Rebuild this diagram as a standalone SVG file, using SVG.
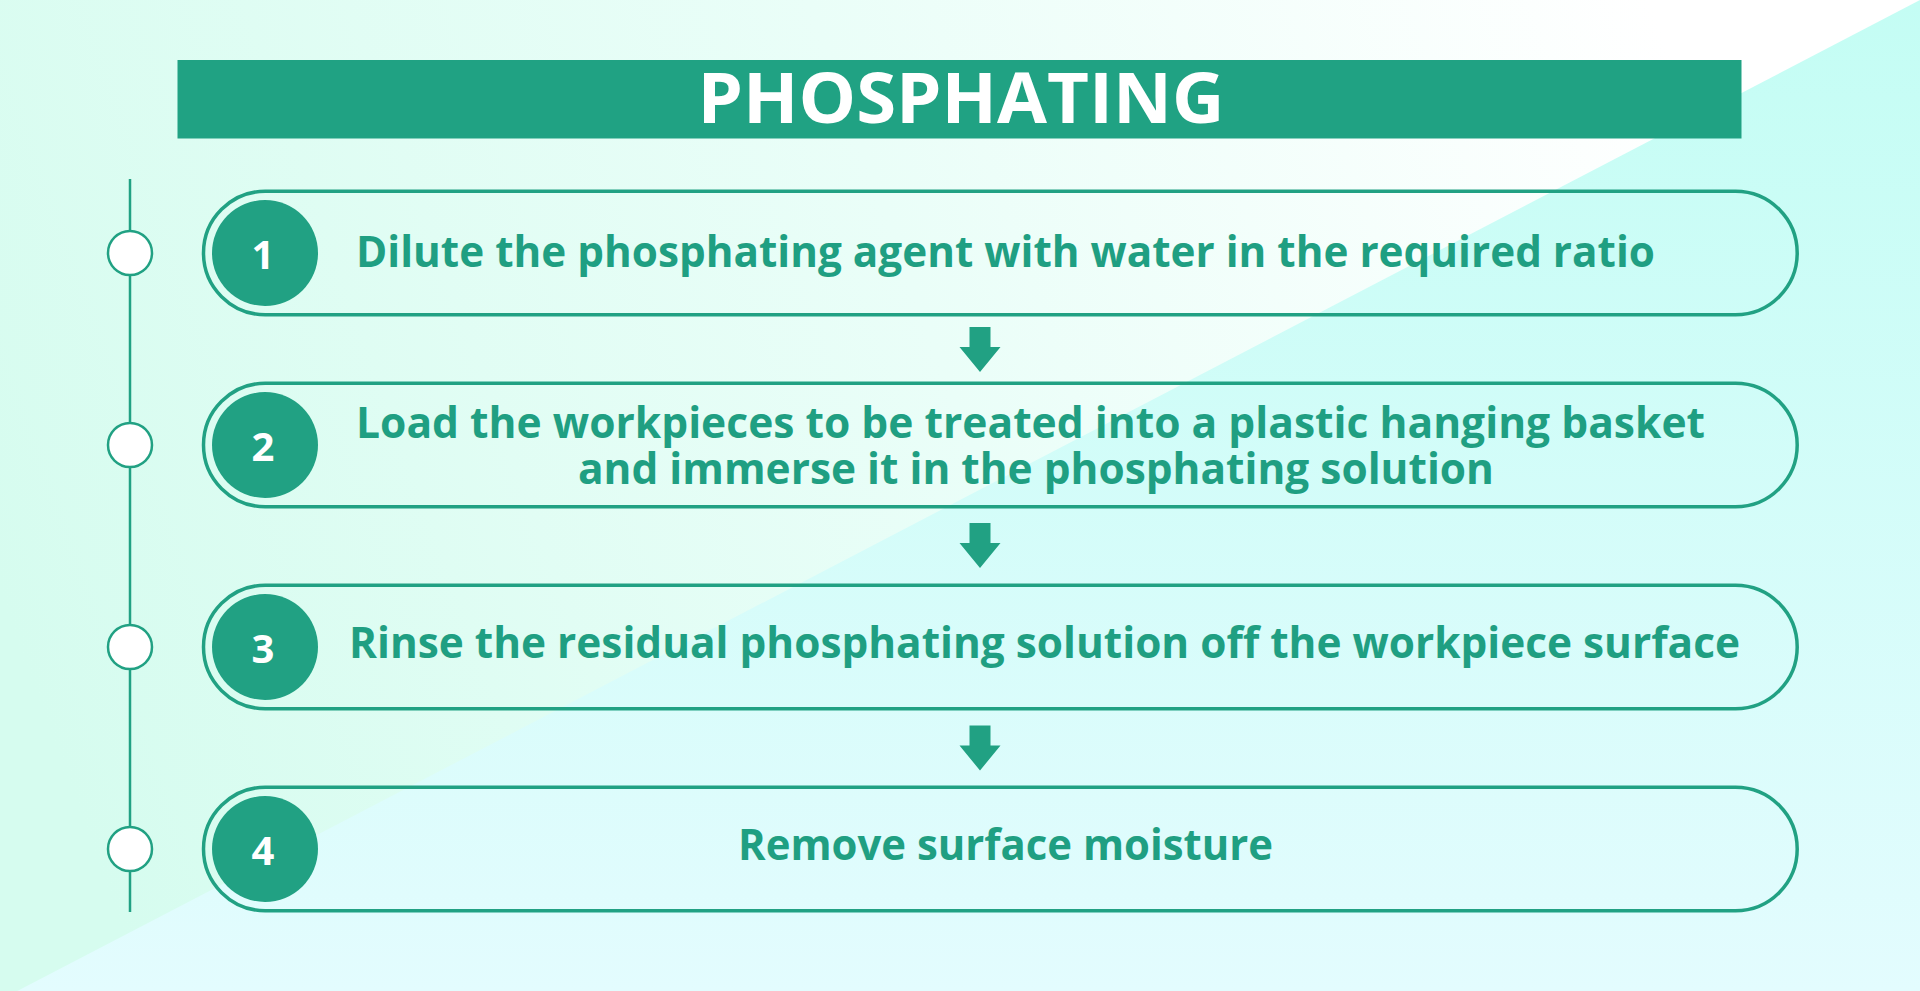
<svg xmlns="http://www.w3.org/2000/svg" width="1920" height="991" viewBox="0 0 1920 991">
  <defs>
    <linearGradient id="bgRight" x1="0" y1="0" x2="0" y2="991" gradientUnits="userSpaceOnUse">
      <stop offset="0" stop-color="#c4fdf4"/>
      <stop offset="1" stop-color="#e3fcfe"/>
    </linearGradient>
    <linearGradient id="bgLeft" x1="0" y1="600" x2="1650" y2="0" gradientUnits="userSpaceOnUse">
      <stop offset="0" stop-color="#d6fcef"/>
      <stop offset="0.55" stop-color="#eafef8"/>
      <stop offset="1" stop-color="#ffffff"/>
    </linearGradient>
    <path id="arrow" d="M-10.5,0 H10.5 V20 H20.5 L0,45 L-20.5,20 H-10.5 Z"/>
  </defs>
  <style>
    .pill { fill: none; stroke: #21a183; stroke-width: 3.5; }
    .num { fill: #21a183; }
    .numtxt { fill: #ffffff; font-family: "Open Sans", "Noto Sans", sans-serif; font-weight: 700; font-size: 40px; text-anchor: middle; }
    .step { fill: #1f9f82; font-family: "Open Sans", "Noto Sans", sans-serif; font-weight: 700; font-size: 43px; text-anchor: middle; }
    .dot { fill: #ffffff; stroke: #21a183; stroke-width: 2.5; }
    .arr { fill: #21a183; }
  </style>

  <g id="background">
    <rect x="0" y="0" width="1920" height="991" fill="url(#bgRight)"/>
    <polygon points="0,0 1920,0 0,1000" fill="url(#bgLeft)"/>
  </g>

  <g id="title">
    <rect x="177.5" y="60" width="1564" height="78.5" fill="#20a283"/>
    <text x="961" y="123" fill="#ffffff" font-family="'Open Sans', 'Noto Sans', sans-serif" font-weight="700" font-size="70" text-anchor="middle" textLength="527" lengthAdjust="spacingAndGlyphs">PHOSPHATING</text>
  </g>

  <g id="timeline">
    <line x1="130" y1="179" x2="130" y2="912" stroke="#21a183" stroke-width="2.5"/>
    <circle class="dot" cx="130" cy="253" r="22"/>
    <circle class="dot" cx="130" cy="445" r="22"/>
    <circle class="dot" cx="130" cy="647" r="22"/>
    <circle class="dot" cx="130" cy="849" r="22"/>
  </g>

  <g id="step1">
    <rect class="pill" x="203.5" y="191.25" width="1593.7" height="123.5" rx="61.75" ry="61.75"/>
    <circle class="num" cx="265" cy="253" r="53"/>
    <text class="numtxt" x="263" y="269">1</text>
    <text class="step" x="1005.5" y="267" textLength="1299" lengthAdjust="spacingAndGlyphs">Dilute the phosphating agent with water in the required ratio</text>
  </g>

  <g id="step2">
    <rect class="pill" x="203.5" y="383.25" width="1593.7" height="123.5" rx="61.75" ry="61.75"/>
    <circle class="num" cx="265" cy="445" r="53"/>
    <text class="numtxt" x="263" y="461">2</text>
    <text class="step" x="1030.5" y="438" textLength="1349" lengthAdjust="spacingAndGlyphs">Load the workpieces to be treated into a plastic hanging basket</text>
    <text class="step" x="1036" y="484" textLength="916" lengthAdjust="spacingAndGlyphs">and immerse it in the phosphating solution</text>
  </g>

  <g id="step3">
    <rect class="pill" x="203.5" y="585.25" width="1593.7" height="123.5" rx="61.75" ry="61.75"/>
    <circle class="num" cx="265" cy="647" r="53"/>
    <text class="numtxt" x="263" y="663">3</text>
    <text class="step" x="1044.5" y="658" textLength="1391" lengthAdjust="spacingAndGlyphs">Rinse the residual phosphating solution off the workpiece surface</text>
  </g>

  <g id="step4">
    <rect class="pill" x="203.5" y="787.25" width="1593.7" height="123.5" rx="61.75" ry="61.75"/>
    <circle class="num" cx="265" cy="849" r="53"/>
    <text class="numtxt" x="263" y="865">4</text>
    <text class="step" x="1005.5" y="860" textLength="535" lengthAdjust="spacingAndGlyphs">Remove surface moisture</text>
  </g>

  <g id="connectors">
    <use href="#arrow" class="arr" x="980" y="327"/>
    <use href="#arrow" class="arr" x="980" y="523"/>
    <use href="#arrow" class="arr" x="980" y="725.5"/>
  </g>
</svg>
